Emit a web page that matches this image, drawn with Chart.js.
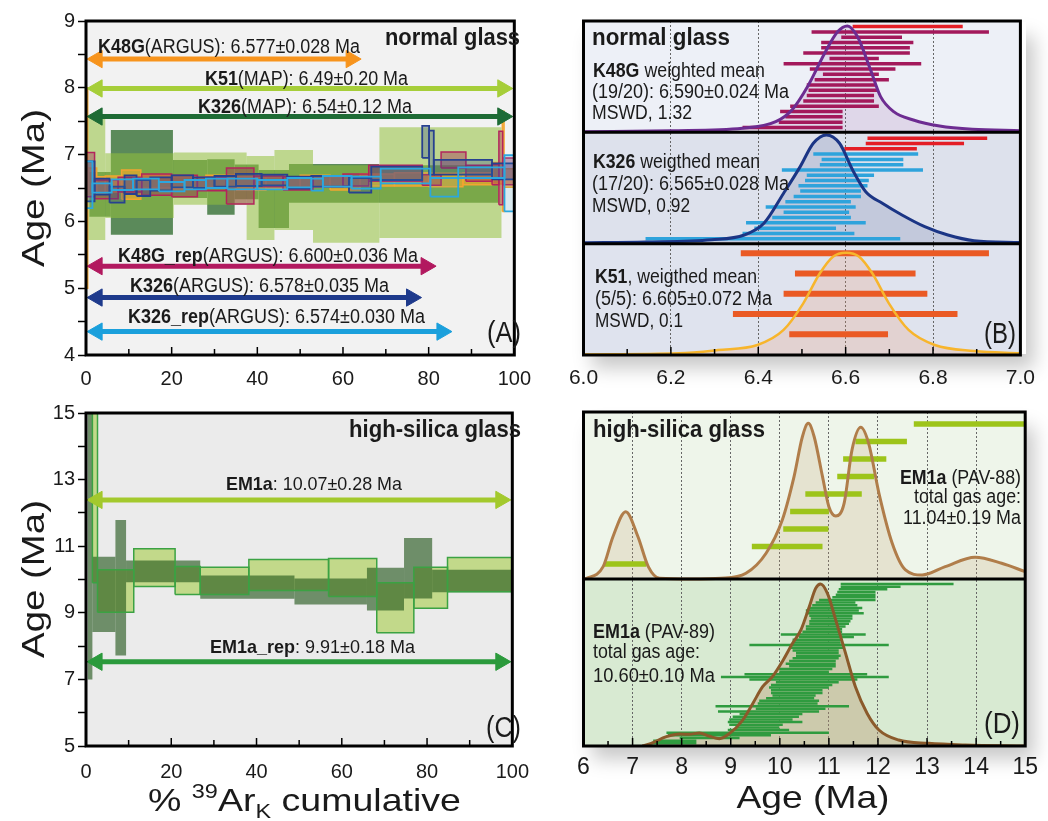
<!DOCTYPE html>
<html><head><meta charset="utf-8">
<script src="https://cdn.jsdelivr.net/npm/chart.js@4.4.1/dist/chart.umd.min.js"></script>
<style>
html,body{margin:0;padding:0;background:#fff;width:1048px;height:821px;overflow:hidden}
canvas{position:absolute}
#cA{left:0;top:0}#cC{left:0;top:400px}#cB{left:545px;top:0}#cD{left:545px;top:400px}
.shadow{position:absolute;background:#fff;box-shadow:8px 14px 18px rgba(0,0,0,0.22)}
#ov{position:absolute;left:0;top:0;z-index:5;pointer-events:none}
</style></head><body>
<div class="shadow" style="left:584px;top:22px;width:442px;height:332px"></div>
<div class="shadow" style="left:584px;top:413px;width:442px;height:332px"></div>
<canvas id="cA" width="545" height="400"></canvas>
<canvas id="cC" width="545" height="421"></canvas>
<canvas id="cB" width="503" height="400"></canvas>
<canvas id="cD" width="503" height="421"></canvas>
<svg id="ov" width="1048" height="821" font-family='"Liberation Sans",Arial,Helvetica,sans-serif' fill="#1a1a1a">
 <!-- axis titles -->
 <text transform="translate(44,188) rotate(-90)" text-anchor="middle" font-size="32" textLength="158" lengthAdjust="spacingAndGlyphs">Age (Ma)</text>
 <text transform="translate(44,579) rotate(-90)" text-anchor="middle" font-size="32" textLength="158" lengthAdjust="spacingAndGlyphs">Age (Ma)</text>
 <text x="148" y="811" font-size="32" textLength="313" lengthAdjust="spacingAndGlyphs">% <tspan font-size="20" dy="-13">39</tspan><tspan dy="13">Ar</tspan><tspan font-size="20" dy="7">K</tspan><tspan dy="-7"> cumulative</tspan></text>
 <text x="813" y="808" text-anchor="middle" font-size="32" textLength="153" lengthAdjust="spacingAndGlyphs">Age (Ma)</text>
 <!-- panel A -->
 <text x="520" y="45" text-anchor="end" font-size="23" font-weight="bold" textLength="135" lengthAdjust="spacingAndGlyphs">normal glass</text>
 <text x="98" y="53" font-size="20" textLength="262" lengthAdjust="spacingAndGlyphs"><tspan font-weight="bold">K48G</tspan>(ARGUS): 6.577±0.028 Ma</text>
 <text x="205" y="85" font-size="20" textLength="203" lengthAdjust="spacingAndGlyphs"><tspan font-weight="bold">K51</tspan>(MAP): 6.49±0.20 Ma</text>
 <text x="198" y="113" font-size="20" textLength="214" lengthAdjust="spacingAndGlyphs"><tspan font-weight="bold">K326</tspan>(MAP): 6.54±0.12 Ma</text>
 <text x="118" y="262" font-size="20" textLength="300" lengthAdjust="spacingAndGlyphs"><tspan font-weight="bold">K48G_rep</tspan>(ARGUS): 6.600±0.036 Ma</text>
 <text x="130" y="292" font-size="20" textLength="259" lengthAdjust="spacingAndGlyphs"><tspan font-weight="bold">K326</tspan>(ARGUS): 6.578±0.035 Ma</text>
 <text x="128" y="323" font-size="20" textLength="297" lengthAdjust="spacingAndGlyphs"><tspan font-weight="bold">K326_rep</tspan>(ARGUS): 6.574±0.030 Ma</text>
 <text x="521" y="342" text-anchor="end" font-size="30" textLength="34" lengthAdjust="spacingAndGlyphs">(A)</text>
 <!-- panel C -->
 <text x="521" y="437" text-anchor="end" font-size="24" font-weight="bold" textLength="172" lengthAdjust="spacingAndGlyphs">high-silica glass</text>
 <text x="226" y="490" font-size="19" textLength="176" lengthAdjust="spacingAndGlyphs"><tspan font-weight="bold">EM1a</tspan>: 10.07±0.28 Ma</text>
 <text x="210" y="653" font-size="19" textLength="205" lengthAdjust="spacingAndGlyphs"><tspan font-weight="bold">EM1a_rep</tspan>: 9.91±0.18 Ma</text>
 <text x="521" y="737" text-anchor="end" font-size="30" textLength="35" lengthAdjust="spacingAndGlyphs">(C)</text>
 <!-- panel B -->
 <text x="592" y="45" font-size="23" font-weight="bold" textLength="138" lengthAdjust="spacingAndGlyphs">normal glass</text>
 <text x="593" y="77" font-size="20" textLength="172" lengthAdjust="spacingAndGlyphs"><tspan font-weight="bold">K48G</tspan> weighted mean</text>
 <text x="592" y="98" font-size="20" textLength="197" lengthAdjust="spacingAndGlyphs">(19/20): 6.590±0.024 Ma</text>
 <text x="592" y="119" font-size="20" textLength="100" lengthAdjust="spacingAndGlyphs">MSWD, 1.32</text>
 <text x="593" y="168" font-size="20" textLength="167" lengthAdjust="spacingAndGlyphs"><tspan font-weight="bold">K326</tspan> weigthed mean</text>
 <text x="592" y="190" font-size="20" textLength="197" lengthAdjust="spacingAndGlyphs">(17/20): 6.565±0.028 Ma</text>
 <text x="592" y="212" font-size="20" textLength="98" lengthAdjust="spacingAndGlyphs">MSWD, 0.92</text>
 <text x="595" y="283" font-size="20" textLength="162" lengthAdjust="spacingAndGlyphs"><tspan font-weight="bold">K51</tspan>, weigthed mean</text>
 <text x="595" y="305" font-size="20" textLength="177" lengthAdjust="spacingAndGlyphs">(5/5): 6.605±0.072 Ma</text>
 <text x="595" y="327" font-size="20" textLength="88" lengthAdjust="spacingAndGlyphs">MSWD, 0.1</text>
 <text x="1016" y="343" text-anchor="end" font-size="30" textLength="32" lengthAdjust="spacingAndGlyphs">(B)</text>
 <!-- panel D -->
 <text x="593" y="437" font-size="24" font-weight="bold" textLength="172" lengthAdjust="spacingAndGlyphs">high-silica glass</text>
 <text x="1021" y="484" text-anchor="end" font-size="20" textLength="121" lengthAdjust="spacingAndGlyphs"><tspan font-weight="bold">EM1a</tspan> (PAV-88)</text>
 <text x="1021" y="503" text-anchor="end" font-size="20" textLength="107" lengthAdjust="spacingAndGlyphs">total gas age:</text>
 <text x="1021" y="524" text-anchor="end" font-size="20" textLength="118" lengthAdjust="spacingAndGlyphs">11.04±0.19 Ma</text>
 <text x="593" y="638" font-size="20" textLength="122" lengthAdjust="spacingAndGlyphs"><tspan font-weight="bold">EM1a</tspan> (PAV-89)</text>
 <text x="593" y="658" font-size="20" textLength="107" lengthAdjust="spacingAndGlyphs">total gas age:</text>
 <text x="593" y="682" font-size="20" textLength="122" lengthAdjust="spacingAndGlyphs">10.60±0.10 Ma</text>
 <text x="1020" y="733" text-anchor="end" font-size="30" textLength="36" lengthAdjust="spacingAndGlyphs">(D)</text>
</svg>
<script>
// ================= DATA =================
// Panel A: step-heating age spectra (cumulative %39ArK step boundaries, step age Ma, error Ma)
const K326_MAP_bounds = [0.8, 5.8, 20.3, 28.3, 34.7, 40.3, 47.4, 68.4, 96.3];
const K326_MAP_age    = [6.405, 6.585, 6.635, 6.515, 6.59, 6.335, 6.57, 6.56];
const K326_MAP_err    = [0.335, 0.785, 0.285, 0.415, 0.26, 0.435, 0.29, 0.28];

const K51_MAP_bounds = [0.5, 4.5, 20.5, 37.5, 44, 53, 68.5, 97];
const K51_MAP_age    = [6.635, 6.535, 6.64, 6.35, 6.47, 6.26, 6.58];
const K51_MAP_err    = [0.915, 0.485, 0.39, 0.63, 0.6, 0.58, 0.83];

const K48G_ARGUS_bounds = [0, 0.4, 2.5, 4.5, 8.3, 12.8, 20, 28, 35, 42, 50, 57, 64, 72, 80, 88, 95, 97.2, 97.6, 100];
const K48G_ARGUS_age    = [6.5, 6.6, 6.55, 6.56, 6.55, 6.6, 6.58, 6.6, 6.57, 6.58, 6.6, 6.57, 6.62, 6.63, 6.62, 6.64, 6.72, 6.9, 6.65];
const K48G_ARGUS_err    = [1.5, 0.2, 0.12, 0.12, 0.22, 0.1, 0.09, 0.09, 0.1, 0.09, 0.09, 0.1, 0.09, 0.1, 0.1, 0.09, 0.16, 0.75, 0.14];

const K48G_rep_bounds = [0, 2, 7.5, 13, 20, 26, 32.8, 39.2, 46, 53, 60, 66, 78.5, 82.9, 88.7, 94.8, 96.4, 97.3, 100];
const K48G_rep_age    = [6.7, 6.48, 6.55, 6.55, 6.53, 6.56, 6.53, 6.6, 6.57, 6.6, 6.62, 6.72, 6.62, 6.92, 6.72, 6.7, 6.8, 6.75];
const K48G_rep_err    = [0.33, 0.14, 0.11, 0.16, 0.16, 0.1, 0.27, 0.08, 0.1, 0.08, 0.09, 0.12, 0.08, 0.12, 0.12, 0.15, 0.55, 0.2];

const K326_ARGUS_bounds = [0, 2, 5.5, 9, 11.8, 15, 20, 25, 30, 35, 41, 47, 52.6, 61.4, 66.6, 78.5, 80.1, 81.2, 94.8, 100];
const K326_ARGUS_age    = [6.6, 6.52, 6.4, 6.55, 6.5, 6.56, 6.6, 6.58, 6.6, 6.62, 6.62, 6.58, 6.6, 6.54, 6.72, 7.19, 7.03, 6.81, 6.75];
const K326_ARGUS_err    = [0.3, 0.12, 0.12, 0.14, 0.12, 0.1, 0.09, 0.08, 0.08, 0.09, 0.08, 0.09, 0.08, 0.11, 0.1, 0.24, 0.33, 0.11, 0.12];

const K326_rep_bounds = [0, 1.5, 6, 11, 17, 23, 28, 33, 40, 47, 52.6, 55.3, 62, 68.8, 80.4, 86.9, 97.7, 100];
const K326_rep_age    = [6.55, 6.5, 6.55, 6.56, 6.52, 6.55, 6.57, 6.56, 6.55, 6.58, 6.55, 6.6, 6.58, 6.68, 6.51, 6.73, 6.57];
const K326_rep_err    = [0.35, 0.07, 0.08, 0.08, 0.07, 0.07, 0.07, 0.08, 0.07, 0.07, 0.09, 0.08, 0.09, 0.11, 0.14, 0.08, 0.42];

// Panel A plateau arrows (age level on the axis, start/end in % 39Ar)
const A_arrowLevel = [8.43, 7.99, 7.57, 5.33, 4.86, 4.35];
const A_arrowStart = [2.6, 2.6, 2.6, 2.6, 2.6, 2.6];
const A_arrowEnd   = [61.9, 97.3, 97.3, 79.4, 76.0, 83.1];

// Panel C: EM1a spectra
const EM1a_bounds = [1.5, 2.7, 11.2, 20.9, 26.8, 38.2, 56.9, 68.2, 76.9, 84.8, 100];
const EM1a_age    = [16.0, 9.655, 10.355, 9.97, 9.96, 10.135, 10.06, 9.15, 9.755, 10.145];
const EM1a_err    = [6.1, 0.635, 0.565, 0.42, 0.41, 0.465, 0.57, 0.75, 0.615, 0.515];
const EM1a_rep_bounds = [0.4, 1.5, 6.9, 9.4, 26.8, 48.9, 65.9, 74.6, 81.2, 100];
const EM1a_rep_age    = [15.0, 9.55, 9.755, 10.245, 9.77, 9.64, 9.71, 10.34, 9.955];
const EM1a_rep_err    = [8.0, 1.13, 2.035, 0.325, 0.35, 0.39, 0.64, 0.91, 0.335];
const C_arrowLevel = [12.39, 7.53];
const C_arrowStart = [2.6, 2.6];
const C_arrowEnd   = [97.3, 97.3];

// Panel B: single-crystal ages (low / high ends of error bars, Ma), rejected flags, KDE curves
const B_K48G_lo = [6.616, 6.522, 6.59, 6.544, 6.544, 6.503, 6.563, 6.458, 6.518, 6.548, 6.529, 6.511, 6.515, 6.511, 6.503, 6.473, 6.45, 6.462, 6.447, 6.364];
const B_K48G_hi = [6.868, 6.928, 6.729, 6.755, 6.747, 6.747, 6.676, 6.773, 6.714, 6.676, 6.699, 6.669, 6.672, 6.665, 6.665, 6.676, 6.593, 6.593, 6.593, 6.593];
const B_K48G_rejected = [1, 0, 0, 0, 0, 0, 0, 0, 0, 0, 0, 0, 0, 0, 0, 0, 0, 0, 0, 0];
const B_K326_lo = [6.65, 6.646, 6.597, 6.526, 6.545, 6.541, 6.454, 6.511, 6.507, 6.492, 6.496, 6.481, 6.462, 6.417, 6.458, 6.432, 6.372, 6.391, 6.364, 6.142];
const B_K326_hi = [6.924, 6.871, 6.763, 6.766, 6.732, 6.732, 6.777, 6.665, 6.653, 6.65, 6.635, 6.635, 6.612, 6.623, 6.608, 6.612, 6.646, 6.578, 6.62, 6.725];
const B_K326_rejected = [1, 1, 1, 0, 0, 0, 0, 0, 0, 0, 0, 0, 0, 0, 0, 0, 0, 0, 0, 0];
const B_K51_lo = [6.36, 6.484, 6.458, 6.342, 6.471];
const B_K51_hi = [6.928, 6.76, 6.787, 6.856, 6.697];
const B_K48G_kdeAge = [6.0, 6.2, 6.364, 6.44, 6.477, 6.515, 6.552, 6.582, 6.604, 6.627, 6.657, 6.68, 6.71, 6.755, 6.815, 6.89, 7.0];
const B_K48G_kdeDen = [0.005, 0.015, 0.037, 0.096, 0.201, 0.426, 0.711, 0.905, 0.956, 0.86, 0.561, 0.321, 0.186, 0.111, 0.057, 0.028, 0.015];
const B_K326_kdeAge = [6.0, 6.142, 6.293, 6.368, 6.413, 6.458, 6.496, 6.526, 6.556, 6.586, 6.616, 6.646, 6.684, 6.729, 6.781, 6.834, 6.894, 7.0];
const B_K326_kdeDen = [0.008, 0.015, 0.035, 0.078, 0.183, 0.453, 0.692, 0.902, 0.977, 0.902, 0.662, 0.467, 0.363, 0.258, 0.153, 0.078, 0.027, 0.01];
const B_K51_kdeAge = [6.0, 6.218, 6.308, 6.398, 6.458, 6.503, 6.541, 6.571, 6.601, 6.631, 6.661, 6.699, 6.744, 6.804, 6.894, 7.0];
const B_K51_kdeDen = [0.005, 0.015, 0.045, 0.09, 0.225, 0.464, 0.734, 0.883, 0.919, 0.883, 0.734, 0.464, 0.225, 0.09, 0.036, 0.015];

// Panel D: EM1a PAV-88 and PAV-89 single-grain ages and KDE curves
const D88_lo = [12.73, 11.54, 11.29, 11.17, 10.52, 10.21, 10.07, 9.43, 6.42];
const D88_hi = [15.3, 12.59, 12.17, 11.92, 11.67, 11.00, 10.99, 10.87, 7.28];
const D88_kdeAge = [6.0, 6.06, 6.40, 6.6, 6.86, 7.11, 7.32, 7.55, 8.2, 8.8, 9.31, 9.72, 10.05, 10.29, 10.46, 10.58, 10.70, 10.87, 11.0, 11.14, 11.31, 11.47, 11.65, 11.81, 12.02, 12.29, 12.56, 12.9, 13.37, 13.98, 14.52, 15.0];
const D88_kdeDen = [0.0, 0.004, 0.074, 0.253, 0.403, 0.253, 0.074, 0.004, 0.0, 0.004, 0.034, 0.154, 0.353, 0.613, 0.852, 0.932, 0.852, 0.613, 0.433, 0.377, 0.453, 0.772, 0.908, 0.812, 0.513, 0.214, 0.054, 0.024, 0.074, 0.13, 0.094, 0.044];
const D89_lo = [11.24, 11.24, 11.20, 11.17, 11.14, 11.07, 10.80, 10.73, 10.66, 10.60, 10.53, 10.53, 10.60, 10.63, 10.60, 10.60, 10.53, 10.53, 10.46, 10.02, 10.39, 10.26, 10.26, 9.38, 10.19, 10.26, 10.33, 10.33, 10.26, 10.19, 10.12, 10.19, 9.99, 9.99, 9.28, 8.80, 9.38, 9.92, 9.82, 9.78, 9.82, 9.82, 9.85, 9.72, 9.58, 9.55, 8.69, 9.51, 8.74, 9.18, 9.04, 8.97, 8.94, 8.97, 9.11, 8.94, 7.69, 7.72, 7.96, 7.42, 7.38];
const D89_hi = [13.54, 12.46, 12.19, 11.95, 11.95, 11.95, 11.95, 11.54, 11.58, 11.68, 11.61, 11.71, 11.48, 11.48, 11.44, 11.41, 11.34, 11.27, 11.27, 11.75, 11.51, 11.27, 11.24, 12.22, 11.31, 11.20, 11.20, 11.24, 11.20, 11.14, 11.14, 11.14, 11.07, 11.00, 11.78, 12.22, 11.58, 11.20, 11.07, 11.00, 10.87, 10.87, 10.73, 10.70, 10.80, 10.77, 11.41, 10.93, 10.80, 10.46, 10.39, 10.26, 10.46, 10.06, 9.99, 10.19, 11.00, 9.82, 9.18, 8.30, 8.30];
const D89_kdeAge = [7.2, 7.38, 7.69, 7.96, 8.16, 8.36, 8.57, 8.77, 8.97, 9.24, 9.45, 9.65, 9.85, 10.05, 10.26, 10.43, 10.6, 10.73, 10.83, 10.97, 11.14, 11.34, 11.54, 11.78, 12.02, 12.42, 13.03, 13.78, 15.0];
const D89_kdeDen = [0.0, 0.016, 0.056, 0.072, 0.07, 0.078, 0.058, 0.044, 0.074, 0.154, 0.255, 0.355, 0.415, 0.505, 0.615, 0.695, 0.834, 0.944, 0.97, 0.914, 0.754, 0.555, 0.355, 0.195, 0.096, 0.036, 0.016, 0.006, 0.0];

// ================= RENDERING =================
const FONT = '"Liberation Sans",Arial,Helvetica,sans-serif';
const TXT = '#1a1a1a';

function steps(bounds, ages, errs) {
  return ages.map((a, i) => ({x0: bounds[i], x1: bounds[i + 1], lo: a - errs[i], hi: a + errs[i]}));
}
function rectDS(r, style) {
  return Object.assign({
    data: [{x: r.x0, y: r.lo}, {x: r.x1, y: r.lo}, {x: r.x1, y: r.hi}, {x: r.x0, y: r.hi}, {x: r.x0, y: r.lo}],
    fill: 'shape', pointRadius: 0, tension: 0, borderJoinStyle: 'miter', borderWidth: 0, borderColor: 'rgba(0,0,0,0)'
  }, style);
}
function outlineDS(r, color, w) {
  return rectDS(r, {fill: false, borderColor: color, borderWidth: w, backgroundColor: 'rgba(0,0,0,0)'});
}
function arrowDS(x0, x1, y, color) {
  return {data: [{x: x0, y}, {x: x1, y}], borderColor: color, borderWidth: 5, fill: false,
    pointStyle: 'triangle', pointRadius: 10, pointRotation: [-90, 90],
    pointBackgroundColor: color, pointBorderColor: color, pointBorderWidth: 1};
}
function barDS(lo, hi, y, color, w) {
  return {data: [{x: lo, y}, {x: hi, y}], borderColor: color, borderWidth: w, borderCapStyle: 'butt', fill: false, pointRadius: 0};
}
function kdeFill(xs, ys, base, color) {
  return {data: xs.map((x, i) => ({x, y: base + ys[i]})), fill: {value: base}, backgroundColor: color,
    borderWidth: 0, borderColor: 'rgba(0,0,0,0)', pointRadius: 0, cubicInterpolationMode: 'monotone'};
}
function kdeLine(xs, ys, base, color, w) {
  return {data: xs.map((x, i) => ({x, y: base + ys[i]})), fill: false, borderColor: color, borderWidth: w,
    pointRadius: 0, cubicInterpolationMode: 'monotone'};
}

const deco = {
  id: 'deco',
  beforeDraw(chart, args, o) {
    const {ctx, chartArea: ca} = chart; const y = chart.scales.y;
    ctx.save();
    for (const b of (o.bands || [])) {
      const t = y.getPixelForValue(b.to), bt = y.getPixelForValue(b.from);
      ctx.fillStyle = b.color; ctx.fillRect(ca.left, t, ca.right - ca.left, bt - t);
    }
    ctx.restore();
  },
  afterDraw(chart, args, o) {
    const {ctx, chartArea: ca} = chart; const x = chart.scales.x, y = chart.scales.y;
    ctx.save(); ctx.strokeStyle = '#000';
    ctx.lineWidth = 3;
    for (const v of (o.separators || [])) {
      const py = y.getPixelForValue(v);
      ctx.beginPath(); ctx.moveTo(ca.left, py); ctx.lineTo(ca.right, py); ctx.stroke();
    }
    ctx.lineWidth = 1.5;
    x.ticks.forEach(t => {
      const px = x.getPixelForValue(t.value);
      if (px <= ca.left + 2 || px >= ca.right - 2) return;
      const len = (t.label !== '' && t.label !== undefined) ? o.major : o.minor;
      ctx.beginPath(); ctx.moveTo(px, ca.bottom); ctx.lineTo(px, ca.bottom - len); ctx.stroke();
    });
    ctx.lineWidth = 3;
    ctx.strokeRect(ca.left, ca.top, ca.right - ca.left, ca.bottom - ca.top);
    ctx.restore();
  }
};

function build(id, datasets, o) {
  datasets.forEach((d, i) => { d.order = -i; d.type = 'line'; });
  return new Chart(document.getElementById(id), {
    type: 'line',
    data: {datasets},
    options: {
      responsive: false, animation: false, events: [],
      layout: {padding: o.padding},
      plugins: {legend: {display: false}, tooltip: {enabled: false}, deco: o.deco},
      scales: {x: o.x, y: o.y}
    },
    plugins: [deco]
  });
}
function tickFont(s) { return {family: FONT, size: s, lineHeight: 1}; }

// ---------- Panel A ----------
(function () {
  const ds = [];
  steps(K326_MAP_bounds, K326_MAP_age, K326_MAP_err).forEach(r => ds.push(rectDS(r, {backgroundColor: 'rgb(91,138,90)'})));
  steps(K51_MAP_bounds, K51_MAP_age, K51_MAP_err).forEach(r => ds.push(rectDS(r, {backgroundColor: 'rgba(148,193,60,0.55)'})));
  steps(K48G_ARGUS_bounds, K48G_ARGUS_age, K48G_ARGUS_err).forEach(r => ds.push(rectDS(r, {backgroundColor: 'rgba(246,168,40,0.65)', borderColor: '#f2a531', borderWidth: 1.5})));
  steps(K48G_rep_bounds, K48G_rep_age, K48G_rep_err).forEach(r => ds.push(rectDS(r, {backgroundColor: 'rgba(165,45,85,0.42)', borderColor: '#b3245c', borderWidth: 1.5})));
  steps(K326_ARGUS_bounds, K326_ARGUS_age, K326_ARGUS_err).forEach(r => ds.push(rectDS(r, {backgroundColor: 'rgba(35,60,150,0.28)', borderColor: '#27418f', borderWidth: 1.8})));
  steps(K326_rep_bounds, K326_rep_age, K326_rep_err).forEach(r => ds.push(rectDS(r, {backgroundColor: 'rgba(40,170,225,0.12)', borderColor: '#2ba7df', borderWidth: 1.8})));
  const arrowColors = ['#f7941d', '#a6ce39', '#1e6b35', '#b2195f', '#1e3a8c', '#1ba0dc'];
  A_arrowLevel.forEach((lv, i) => ds.push(arrowDS(A_arrowStart[i], A_arrowEnd[i], lv, arrowColors[i])));
  build('cA', ds, {
    padding: {left: 0, top: 21, right: 17, bottom: 0},
    deco: {bands: [{from: 4, to: 9, color: '#f2f2f2'}], major: 8, minor: 6},
    x: {type: 'linear', min: 0, max: 100, afterFit: s => { s.height = 45; },
      ticks: {stepSize: 10, autoSkip: false, maxRotation: 0, padding: 14, color: TXT, font: tickFont(20), callback: v => v % 20 === 0 ? String(v) : ''},
      grid: {display: false, drawTicks: false}, border: {display: false}},
    y: {type: 'linear', min: 4, max: 9, afterFit: s => { s.width = 86; },
      ticks: {stepSize: 0.5, autoSkip: false, padding: 3, color: TXT, font: tickFont(20), callback: v => Number.isInteger(v) ? String(v) : ''},
      grid: {drawOnChartArea: false, drawTicks: true, tickLength: 8, tickColor: '#000', tickWidth: 1.5, color: '#000'}, border: {display: false}}
  });
})();

// ---------- Panel C ----------
(function () {
  const ds = [];
  const em = steps(EM1a_bounds, EM1a_age, EM1a_err);
  em.forEach(r => ds.push(rectDS(r, {backgroundColor: '#c2d98a'})));
  steps(EM1a_rep_bounds, EM1a_rep_age, EM1a_rep_err).forEach(r => ds.push(rectDS(r, {backgroundColor: 'rgba(34,86,26,0.62)'})));
  em.forEach(r => ds.push(outlineDS(r, '#3ba243', 1.5)));
  const arrowColors = ['#a3c92d', '#2b9a3c'];
  C_arrowLevel.forEach((lv, i) => ds.push(arrowDS(C_arrowStart[i], C_arrowEnd[i], lv, arrowColors[i])));
  build('cC', ds, {
    padding: {left: 0, top: 12, right: 17, bottom: 30},
    deco: {bands: [{from: 5, to: 15, color: '#ebebeb'}], major: 8, minor: 6},
    x: {type: 'linear', min: 0, max: 100, afterFit: s => { s.height = 45; },
      ticks: {stepSize: 10, autoSkip: false, maxRotation: 0, padding: 16, color: TXT, font: tickFont(20), callback: v => v % 20 === 0 ? String(v) : ''},
      grid: {display: false, drawTicks: false}, border: {display: false}},
    y: {type: 'linear', min: 5, max: 15, afterFit: s => { s.width = 86; },
      ticks: {stepSize: 1, autoSkip: false, padding: 3, color: TXT, font: tickFont(20), callback: v => (v % 2 === 1) ? String(v) : ''},
      grid: {drawOnChartArea: false, drawTicks: true, tickLength: 8, tickColor: '#000', tickWidth: 1.5, color: '#000'}, border: {display: false}}
  });
})();

// ---------- Panel B ----------
(function () {
  const ds = [];
  ds.push(kdeFill(B_K48G_kdeAge, B_K48G_kdeDen, 2, 'rgba(150,90,160,0.16)'));
  ds.push(kdeFill(B_K326_kdeAge, B_K326_kdeDen, 1, 'rgba(40,60,130,0.14)'));
  ds.push(kdeFill(B_K51_kdeAge, B_K51_kdeDen, 0, 'rgba(235,150,110,0.22)'));
  B_K48G_lo.forEach((lo, i) => ds.push(barDS(lo, B_K48G_hi[i], 2.95 - i * 0.0477, B_K48G_rejected[i] ? '#e41e26' : '#a3195b', 3.5)));
  B_K326_lo.forEach((lo, i) => ds.push(barDS(lo, B_K326_hi[i], 1.947 - i * 0.0475, B_K326_rejected[i] ? '#e41e26' : '#2ea3dc', 3.5)));
  B_K51_lo.forEach((lo, i) => ds.push(barDS(lo, B_K51_hi[i], 0.914 - i * 0.182, '#ea5a24', 6)));
  ds.push(kdeLine(B_K48G_kdeAge, B_K48G_kdeDen, 2, '#6d2c91', 3));
  ds.push(kdeLine(B_K326_kdeAge, B_K326_kdeDen, 1, '#1b3585', 3));
  ds.push(kdeLine(B_K51_kdeAge, B_K51_kdeDen, 0, '#f7b52c', 2.5));
  build('cB', ds, {
    padding: {left: 38.5, top: 21, right: 21, bottom: 0},
    deco: {bands: [{from: 2, to: 3, color: '#edf0f7'}, {from: 1, to: 2, color: '#dde1ec'}, {from: 0, to: 1, color: '#dfe3ee'}], separators: [1, 2], major: 8, minor: 6},
    x: {type: 'linear', min: 6, max: 7, afterFit: s => { s.height = 45; },
      ticks: {stepSize: 0.1, autoSkip: false, maxRotation: 0, padding: 13, color: TXT, font: tickFont(21), callback: v => Math.round(v * 10) % 2 === 0 ? v.toFixed(1) : ''},
      grid: {drawTicks: false, lineWidth: 1, color: c => { const v = Math.round(c.tick.value * 10); return (v % 2 === 0 && v > 60 && v < 70) ? '#666' : 'rgba(0,0,0,0)'; }},
      border: {display: false, dash: [2, 2]}},
    y: {type: 'linear', min: 0, max: 3, display: false}
  });
})();

// ---------- Panel D ----------
(function () {
  const ds = [];
  ds.push(kdeFill(D88_kdeAge, D88_kdeDen, 1, 'rgba(200,165,120,0.22)'));
  ds.push(kdeFill(D89_kdeAge, D89_kdeDen, 0, 'rgba(185,150,110,0.38)'));
  D88_lo.forEach((lo, i) => ds.push(barDS(lo, D88_hi[i], 1.928 - i * 0.1048, '#9dc41a', 5.5)));
  D89_lo.forEach((lo, i) => ds.push(barDS(lo, D89_hi[i], 0.97 - i * 0.0159, '#2f9b3f', 2.5)));
  ds.push(kdeLine(D88_kdeAge, D88_kdeDen, 1, '#b07d4a', 3));
  ds.push(kdeLine(D89_kdeAge, D89_kdeDen, 0, '#8b5a2b', 3));
  build('cD', ds, {
    padding: {left: 38.5, top: 12, right: 21, bottom: 30},
    deco: {bands: [{from: 1, to: 2, color: '#eef5ea'}, {from: 0, to: 1, color: '#d8ead2'}], separators: [1], major: 8, minor: 5},
    x: {type: 'linear', min: 6, max: 15, afterFit: s => { s.height = 45; },
      ticks: {stepSize: 0.5, autoSkip: false, maxRotation: 0, padding: 10, color: TXT, font: tickFont(23), callback: v => Number.isInteger(v) ? String(v) : ''},
      grid: {drawTicks: false, lineWidth: 1, color: c => { const v = c.tick.value; return (Number.isInteger(v) && v > 6 && v < 15) ? '#666' : 'rgba(0,0,0,0)'; }},
      border: {display: false, dash: [2, 2]}},
    y: {type: 'linear', min: 0, max: 2, display: false}
  });
})();
</script>
</body></html>
